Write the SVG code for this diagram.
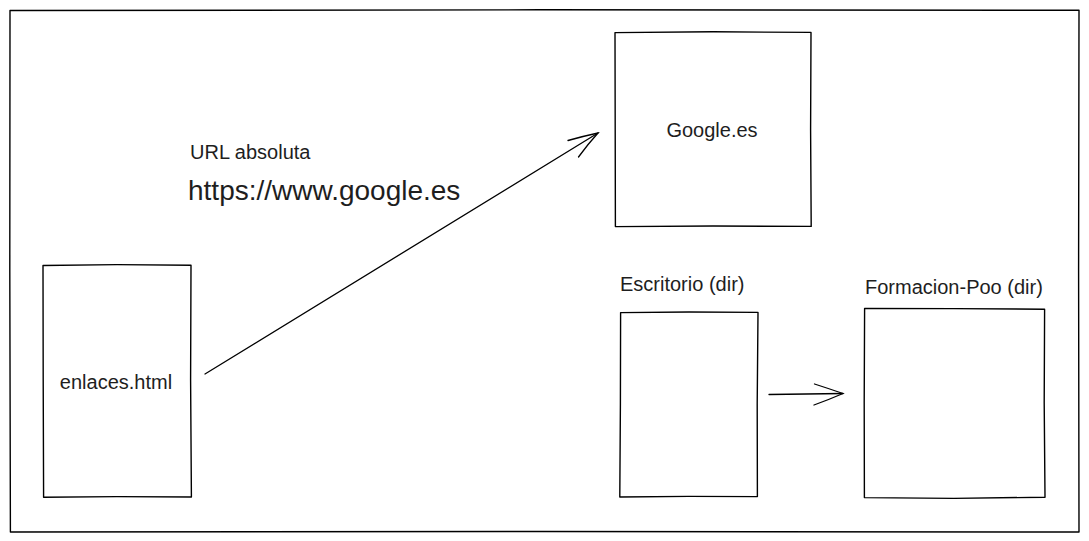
<svg xmlns="http://www.w3.org/2000/svg" width="1089" height="541" viewBox="0 0 1089 541">
<style>
.box{fill:#fff;stroke:#000;stroke-width:1.4;stroke-linejoin:round}
.edge{fill:none;stroke:#000;stroke-width:1.3;stroke-linecap:round}
.t{font-family:"Liberation Sans",Arial,sans-serif;fill:#1e1e1e}
</style>
<rect x="0" y="0" width="1089" height="541" fill="#fff"/>
<g id="frame">
<path class="box" d="M10 10.5 L540 9.8 L1079 10.3 L1078.6 270 L1079 532 L540 531.5 L10.4 532 L9.8 270 Z"/>
</g>
<g id="enlaces">
<path class="box" d="M43 265.5 L117 264.6 L191 265.2 L190.6 380 L191.4 497 L117 496.6 L43.6 497.2 L43.2 380 Z"/>
<text class="t" x="116" y="389" font-size="20" text-anchor="middle">enlaces.html</text>
</g>
<g id="google">
<path class="box" d="M615 32.6 L713 31.8 L811 32.4 L810.6 130 L811.2 226.4 L713 226 L615.4 226.6 L615.2 130 Z"/>
<text class="t" x="712" y="137" font-size="20" text-anchor="middle">Google.es</text>
</g>
<g id="escritorio">
<text class="t" x="620" y="291" font-size="20">Escritorio (dir)</text>
<path class="box" d="M620.6 312.6 L689 312 L758 312.4 L757.2 404 L757.4 496.6 L689 496.4 L619.8 497 L620.4 404 Z"/>
</g>
<g id="formacion">
<text class="t" x="865" y="294" font-size="20">Formacion-Poo (dir)</text>
<path class="box" d="M864.6 308.4 L954 308.6 L1044.6 309.2 L1044.2 403 L1045 497.2 L954 498.4 L864.4 497.6 L864.2 403 Z"/>
</g>
<g id="labels">
<text class="t" x="190" y="159" font-size="20">URL absoluta</text>
<text class="t" x="188" y="200" font-size="28">https://www.google.es</text>
</g>
<g id="connectors">
<path class="edge" d="M205 374 Q400 255 598 133"/>
<path class="edge" d="M568 140.5 Q584 136 598 133 Q588 144 578.5 157"/>
<path class="edge" d="M769 394.5 L843 393.5"/>
<path class="edge" d="M814.5 384 Q830 389 843 393.5 Q828 400 814 405"/>
</g>
</svg>
